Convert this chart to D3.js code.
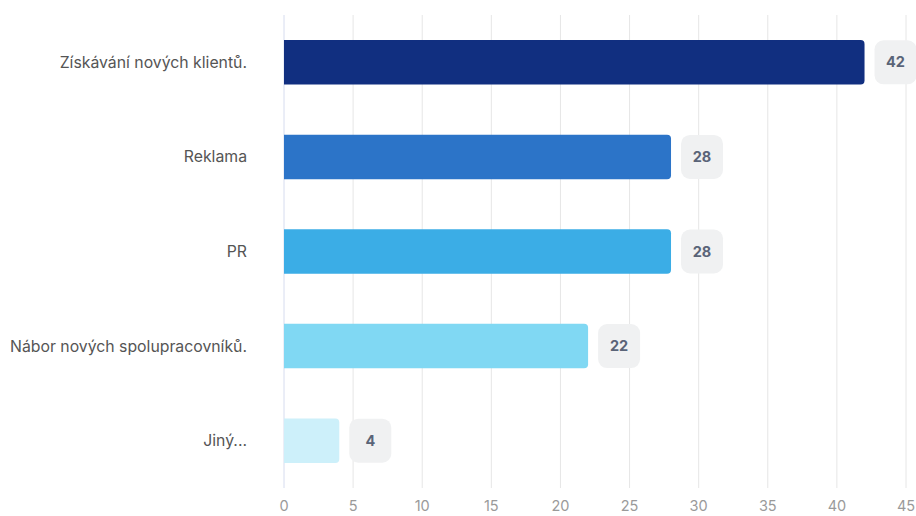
<!DOCTYPE html>
<html><head><meta charset="utf-8">
<script src="https://cdn.jsdelivr.net/npm/d3@7"></script>
<style>body{margin:0;background:#fff;font-family:Inter,"Open Sans",sans-serif;}</style>
</head><body>
<svg id="c" width="916" height="516"></svg>
<script>
const categories = ["Získávání nových klientů.","Reklama","PR","Nábor nových spolupracovníků.","Jiný..."];
const values = [42,28,28,22,4];
const colors = ["#112f80","#2c74c8","#3badE6","#80d8f3","#cdf0fa"];
const ticks = [0,5,10,15,20,25,30,35,40,45];

const svg = d3.select("#c");
const m = {l:284, r:906, t:15, b:488};
const x = d3.scaleLinear().domain([0,45]).range([m.l,m.r]);
const y = d3.scaleBand().domain(categories).range([m.t,m.b]).paddingInner(0.53).paddingOuter(0.265);

svg.append("g").selectAll("line").data(ticks).join("line")
  .attr("x1",d=>x(d)).attr("x2",d=>x(d)).attr("y1",m.t).attr("y2",m.b)
  .attr("stroke",d=>d===0?"#d6dcef":"#e6e6e6").attr("stroke-width",1);

svg.append("g").selectAll("text").data(ticks).join("text")
  .attr("x",d=>x(d)).attr("y",511).attr("text-anchor","middle")
  .attr("font-size",14.5).attr("fill","#9a9a9a").text(d=>d);

svg.append("g").selectAll("text").data(categories).join("text")
  .attr("x",247).attr("y",d=>y(d)+y.bandwidth()/2).attr("dy","0.35em")
  .attr("text-anchor","end").attr("font-size",15.8).attr("fill","#555").text(d=>d);

const r=4;
svg.append("g").selectAll("path").data(values).join("path")
  .attr("d",(v,i)=>{
    const x0=x(0), x1=x(v), y0=y(categories[i]), h=y.bandwidth();
    return `M${x0},${y0}H${x1-r}Q${x1},${y0} ${x1},${y0+r}V${y0+h-r}Q${x1},${y0+h} ${x1-r},${y0+h}H${x0}Z`;
  })
  .attr("fill",(v,i)=>colors[i]);

const bw=42, bh=44;
const g = svg.append("g").selectAll("g").data(values).join("g")
  .attr("transform",(v,i)=>`translate(${x(v)+10},${y(categories[i])+y.bandwidth()/2-bh/2})`);
g.append("rect").attr("width",bw).attr("height",bh).attr("rx",9).attr("fill","#f0f1f2");
g.append("text").attr("x",bw/2).attr("y",bh/2).attr("dy","0.35em").attr("text-anchor","middle")
  .attr("font-size",14.5).attr("font-weight",700).attr("fill","#5a6478").text(d=>d);
</script>
</body></html>
